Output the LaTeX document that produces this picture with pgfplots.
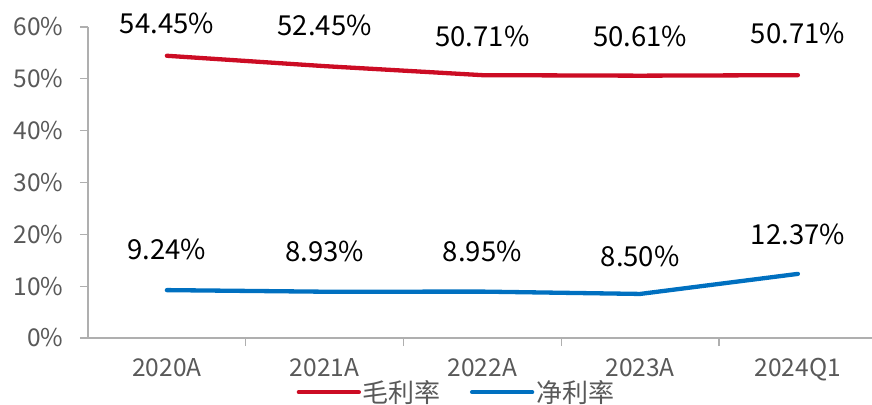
\documentclass[border=0pt]{standalone}
\usepackage{pgfplots}
\pgfplotsset{compat=1.18}
\usepackage{fontspec}
\setmainfont{Noto Sans CJK SC}
\definecolor{gm}{RGB}{204,12,36}
\definecolor{nm}{RGB}{0,112,192}
\definecolor{tg}{RGB}{89,89,89}
\definecolor{axc}{RGB}{175,175,175}
\begin{document}
\begin{tikzpicture}
\begin{axis}[
  name=ax,
  scale only axis, width=784pt, height=311pt,
  xmin=-0.5, xmax=4.47, ymin=0, ymax=60,
  clip=false,
  /pgf/number format/assume math mode=true,
  axis x line*=bottom, axis y line*=left,
  axis line style={axc, line width=1.3pt},
  xtick={0,...,4}, xticklabels={2020A,2021A,2022A,2023A,2024Q1},
  minor xtick={0.5,1.5,2.5,3.5},
  ytick={0,10,...,60},
  yticklabel={\pgfmathprintnumber{\tick}\%},
  tick align=outside,
  major tick length=8pt, minor tick length=8pt,
  every tick/.style={axc, line width=1.3pt},
  every major x tick/.style={draw=none},
  tick label style={font=\fontsize{24.5}{27}\selectfont, text=tg},
  yticklabel style={xshift=-13pt},
  xticklabel style={yshift=-9pt},
  legend style={at={(0.47,-0.174)}, anchor=center, draw=none, fill=none,
    legend columns=2, font=\fontsize{26}{28}\selectfont, text=tg,
    /tikz/every even column/.append style={column sep=27pt}},
  legend image code/.code={\draw[#1] (0pt,0pt) -- (60pt,0pt);},
  nodes near coords style={anchor=center, font=\fontsize{27.5}{30}\selectfont, text=black},
]
\addplot[gm, line width=4.3pt, line cap=round] coordinates {(0,54.45) (1,52.45) (2,50.71) (3,50.61) (4,50.71)};
\addlegendentry{毛利率}
\addplot[nm, line width=4.3pt, line cap=round] coordinates {(0,9.24) (1,8.93) (2,8.95) (3,8.50) (4,12.37)};
\addlegendentry{净利率}
\addplot[draw=none, forget plot, nodes near coords, point meta=explicit symbolic]
  coordinates {(0,60.6)[54.45\%] (1,60.4)[52.45\%] (2,58.1)[50.71\%] (3,58.1)[50.61\%] (4,58.8)[50.71\%]};
\addplot[draw=none, forget plot, nodes near coords, point meta=explicit symbolic]
  coordinates {(0,17.0)[9.24\%] (1,16.65)[8.93\%] (2,16.8)[8.95\%] (3,15.8)[8.50\%] (4,19.9)[12.37\%]};
\end{axis}
\pgfresetboundingbox
\path[use as bounding box] ([xshift=-88pt,yshift=-66pt]ax.south west) rectangle ([yshift=27pt]ax.north east);
\end{tikzpicture}
\end{document}
